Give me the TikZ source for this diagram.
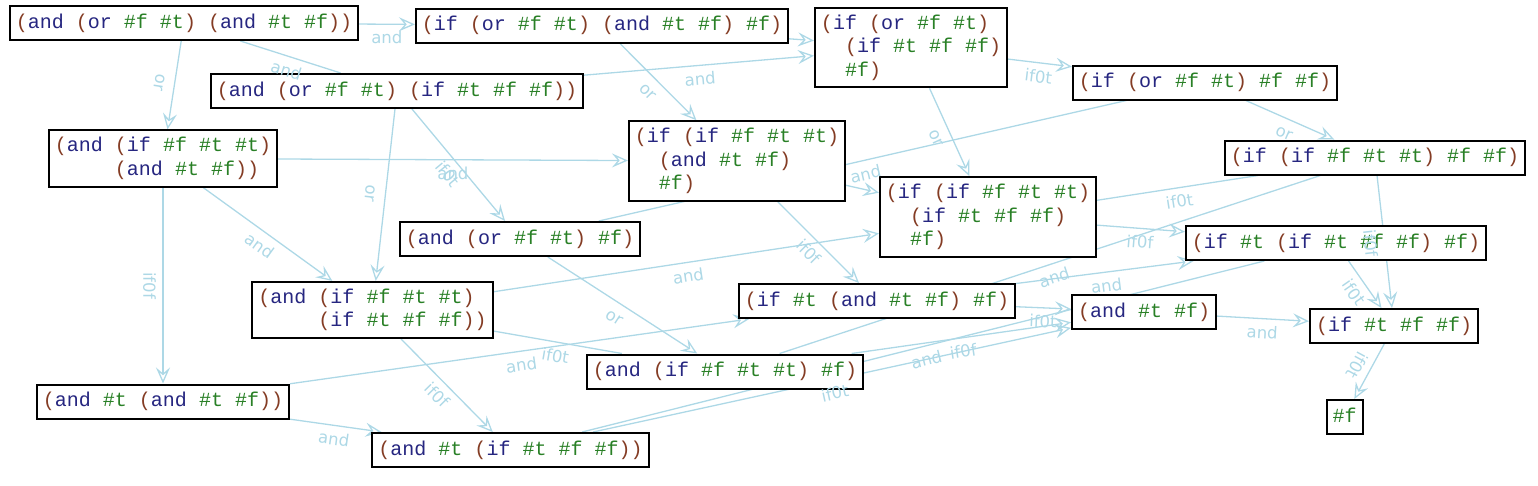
\documentclass[tikz,border=0pt]{standalone}
\usepackage{fontspec}
\newfontfamily\codefont{Liberation Mono}
\newfontfamily\labelfont{DejaVu Sans}
\usetikzlibrary{arrows.meta}
\pgfdeclarelayer{edges}
\pgfsetlayers{edges,main}

\definecolor{paren}{RGB}{132,60,36}
\definecolor{kw}{RGB}{38,38,128}
\definecolor{lit}{RGB}{41,128,38}
\definecolor{edgeblue}{RGB}{173,216,230}

\newcommand{\kopen}[1]{\textcolor{paren}{(}\textcolor{kw}{#1}}
\newcommand{\kclose}{\textcolor{paren}{)}}
\newcommand{\ktrue}{\textcolor{lit}{\#t}}
\newcommand{\kfalse}{\textcolor{lit}{\#f}}

\tikzset{
  code/.style={draw=black,line width=2pt,fill=white,
    font=\codefont\fontsize{20}{23.5}\selectfont,inner xsep=6pt,inner ysep=7pt},
  box/.style={code,text height=15pt,text depth=5pt},
  tbox/.style={code,align=left},
  trans/.style={draw=edgeblue,line width=1.3pt,
    -{Stealth[open,length=16pt,width=14pt,inset=6pt]}},
  trans0/.style={draw=edgeblue,line width=1.3pt},
  rulelbl/.style={font=\labelfont\fontsize{16.5}{17}\selectfont,text=edgeblue,
    pos=0.5,sloped,allow upside down,below=5pt,inner sep=2pt,
    text height=12.5pt,text depth=0pt}
}

\begin{document}
\begin{tikzpicture}[x=1pt,y=-1pt]
  \useasboundingbox (0,0) rectangle (1538,485);
  % terms
  \node[box] (n1) at (184,23) {\kopen{and} \kopen{or} \kfalse{} \ktrue\kclose{} \kopen{and} \ktrue{} \kfalse\kclose\kclose};
  \node[box] (n2) at (602,25.5) {\kopen{if} \kopen{or} \kfalse{} \ktrue\kclose{} \kopen{and} \ktrue{} \kfalse\kclose{} \kfalse\kclose};
  \node[tbox] (n3) at (911,47.5) {\kopen{if} \kopen{or} \kfalse{} \ktrue\kclose\\ \hphantom{xx}\kopen{if} \ktrue{} \kfalse{} \kfalse\kclose\\ \hphantom{xx}\kfalse\kclose};
  \node[box] (n4) at (397,91) {\kopen{and} \kopen{or} \kfalse{} \ktrue\kclose{} \kopen{if} \ktrue{} \kfalse{} \kfalse\kclose\kclose};
  \node[box] (n5) at (1205,82.5) {\kopen{if} \kopen{or} \kfalse{} \ktrue\kclose{} \kfalse{} \kfalse\kclose};
  \node[tbox] (n6) at (163,158.5) {\kopen{and} \kopen{if} \kfalse{} \ktrue{} \ktrue\kclose\\ \hphantom{xxxxx}\kopen{and} \ktrue{} \kfalse\kclose\kclose};
  \node[tbox] (n7) at (737,161) {\kopen{if} \kopen{if} \kfalse{} \ktrue{} \ktrue\kclose\\ \hphantom{xx}\kopen{and} \ktrue{} \kfalse\kclose\\ \hphantom{xx}\kfalse\kclose};
  \node[box] (n8) at (1375,157.5) {\kopen{if} \kopen{if} \kfalse{} \ktrue{} \ktrue\kclose{} \kfalse{} \kfalse\kclose};
  \node[tbox] (n9) at (988,217) {\kopen{if} \kopen{if} \kfalse{} \ktrue{} \ktrue\kclose\\ \hphantom{xx}\kopen{if} \ktrue{} \kfalse{} \kfalse\kclose\\ \hphantom{xx}\kfalse\kclose};
  \node[box] (n10) at (520,239) {\kopen{and} \kopen{or} \kfalse{} \ktrue\kclose{} \kfalse\kclose};
  \node[box] (n11) at (1336,243) {\kopen{if} \ktrue{} \kopen{if} \ktrue{} \kfalse{} \kfalse\kclose{} \kfalse\kclose};
  \node[tbox] (n12) at (372.5,310) {\kopen{and} \kopen{if} \kfalse{} \ktrue{} \ktrue\kclose\\ \hphantom{xxxxx}\kopen{if} \ktrue{} \kfalse{} \kfalse\kclose\kclose};
  \node[box] (n13) at (877,301) {\kopen{if} \ktrue{} \kopen{and} \ktrue{} \kfalse\kclose{} \kfalse\kclose};
  \node[box] (n14) at (1144,312) {\kopen{and} \ktrue{} \kfalse\kclose};
  \node[box] (n15) at (1394,326) {\kopen{if} \ktrue{} \kfalse{} \kfalse\kclose};
  \node[box] (n16) at (725,371.5) {\kopen{and} \kopen{if} \kfalse{} \ktrue{} \ktrue\kclose{} \kfalse\kclose};
  \node[box] (n17) at (163,401.5) {\kopen{and} \ktrue{} \kopen{and} \ktrue{} \kfalse\kclose\kclose};
  \node[box] (n18) at (510.5,450) {\kopen{and} \ktrue{} \kopen{if} \ktrue{} \kfalse{} \kfalse\kclose\kclose};
  \node[box] (n19) at (1344.5,417) {\kfalse};
  % reductions
  \foreach \a/\b/\r in {n1/n2/and, n1/n6/or, n2/n3/, n2/n7/or, n3/n5/if0t, n3/n9/or,
      n4/n3/and, n4/n12/or, n4/n10/if0t, n5/n8/or, n6/n7/and, n6/n12/and,
      n6/n17/if0f, n7/n13/if0f, n7/n9/, n8/n15/if0f, n9/n11/if0f, n10/n16/or,
      n11/n15/if0t, n12/n9/and, n12/n18/if0f, n13/n14/if0t, n13/n11/and,
      n14/n15/and, n15/n19/if0t, n16/n14/if0f, n17/n13/and, n17/n18/and,
      n18/n14/if0t}{
    \begin{pgfonlayer}{edges}
      \draw[trans] (\a) -- (\b);
    \end{pgfonlayer}
    \path (\a) -- (\b) node[rulelbl]{\r};
  }
  \foreach \a/\b/\r in {n1/n4/and, n9/n8/if0t, n10/n5/and, n12/n16/if0t,
      n16/n8/and, n18/n11/and}{
    \begin{pgfonlayer}{edges}
      \draw[trans0] (\a) -- (\b);
    \end{pgfonlayer}
    \path (\a) -- (\b) node[rulelbl]{\r};
  }
\end{tikzpicture}
\end{document}
